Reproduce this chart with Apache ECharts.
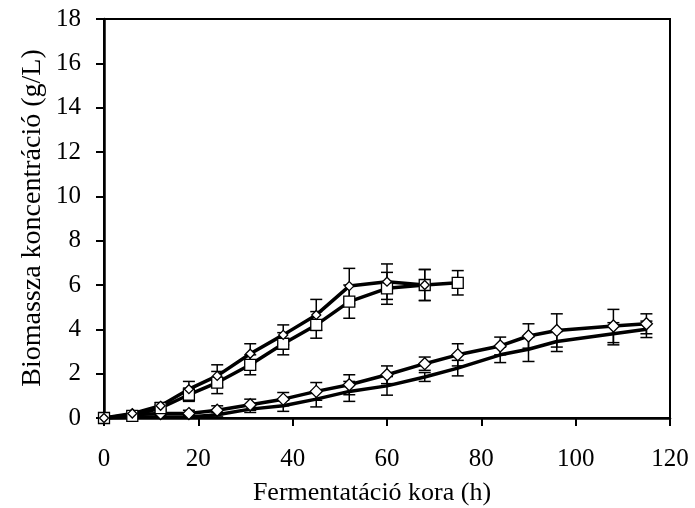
<!DOCTYPE html>
<html>
<head>
<meta charset="utf-8">
<script src="https://cdn.jsdelivr.net/npm/echarts@6/dist/echarts.min.js"></script>
<style>html,body{margin:0;padding:0;background:#fff;}#c{width:695px;height:508px;}</style>
</head>
<body>
<div id="c"></div>
<script>
// Data
const timesA = [0, 6, 12, 18, 24, 31, 38, 45, 52, 60, 68];
const valuesA = [0, 0.2, 0.55, 1.3, 1.9, 2.9, 3.75, 4.65, 5.95, 6.15, 6.0];
const errA = [0, 0.1, 0.15, 0.35, 0.5, 0.45, 0.45, 0.7, 0.8, 0.8, 0.7];

const timesB = [0, 6, 12, 18, 24, 31, 38, 45, 52, 60, 68, 75];
const valuesB = [0, 0.1, 0.45, 1.05, 1.6, 2.4, 3.35, 4.2, 5.25, 5.85, 6.0, 6.1];
const errB = [0, 0.1, 0.15, 0.3, 0.5, 0.45, 0.5, 0.6, 0.75, 0.72, 0.7, 0.55];

const timesCD = [0, 6, 12, 18, 24, 31, 38, 45, 52, 60, 68, 75, 84, 90, 96, 108, 115];
const valuesC = [0, 0.15, 0.2, 0.2, 0.35, 0.6, 0.85, 1.2, 1.5, 1.95, 2.45, 2.85, 3.25, 3.7, 3.95, 4.15, 4.25];
const errC = [0, 0.15, 0.15, 0.15, 0.2, 0.25, 0.3, 0.4, 0.45, 0.4, 0.3, 0.5, 0.4, 0.55, 0.75, 0.75, 0.45];
const valuesD = [0, 0.05, 0.05, 0.05, 0.15, 0.4, 0.55, 0.85, 1.2, 1.45, 1.85, 2.25, 2.85, 3.1, 3.45, 3.8, 4.0];
const errD = [0, 0.05, 0.05, 0.05, 0.1, 0.15, 0.25, 0.35, 0.45, 0.42, 0.2, 0.35, 0.35, 0.55, 0.45, 0.5, 0.37];

const xTicks = [0, 20, 40, 60, 80, 100, 120];
const yTicks = [0, 2, 4, 6, 8, 10, 12, 14, 16, 18];

const xTitle = 'Fermentatáció kora (h)';
const yTitle = 'Biomassza koncentráció (g/L)';

function pairs(xs, ys) { return xs.map((x, i) => [x, ys[i]]); }
function errData(xs, ys, es) { return xs.map((x, i) => [x, ys[i] - es[i], ys[i] + es[i]]); }

function errSeries(xs, ys, es) {
  return {
    type: 'custom',
    data: errData(xs, ys, es),
    z: 3,
    silent: true,
    encode: { x: 0, y: [1, 2] },
    renderItem: function (params, api) {
      const x = api.value(0);
      const lo = api.coord([x, api.value(1)]);
      const hi = api.coord([x, api.value(2)]);
      const w = 6;
      const style = { stroke: '#000', lineWidth: 1.5, fill: null };
      return {
        type: 'group',
        children: [
          { type: 'line', shape: { x1: lo[0], y1: lo[1], x2: hi[0], y2: hi[1] }, style: style },
          { type: 'line', shape: { x1: lo[0] - w, y1: lo[1], x2: lo[0] + w, y2: lo[1] }, style: style },
          { type: 'line', shape: { x1: hi[0] - w, y1: hi[1], x2: hi[0] + w, y2: hi[1] }, style: style }
        ]
      };
    }
  };
}

function lineSeries(xs, ys, symbol, size) {
  return {
    type: 'line',
    data: pairs(xs, ys),
    symbol: symbol,
    symbolSize: size,
    showSymbol: symbol !== 'none',
    z: 4,
    lineStyle: { color: '#000', width: 3.5 },
    itemStyle: { color: '#fff', borderColor: '#000', borderWidth: 1.3 },
    animation: false
  };
}

const font = 'Liberation Serif, Times New Roman, serif';
const chart = echarts.init(document.getElementById('c'));
chart.setOption({
  animation: false,
  backgroundColor: '#fff',
  grid: { left: 104, right: 25, top: 19, bottom: 90, show: true, borderColor: '#000', borderWidth: 2 },
  xAxis: {
    type: 'value', min: 0, max: 120, interval: 20,
    axisLine: { show: true, lineStyle: { color: '#000', width: 2.5 } },
    axisTick: { show: true, length: 8, lineStyle: { color: '#000', width: 2 } },
    axisLabel: { color: '#000', fontFamily: font, fontSize: 25, margin: 29,
      formatter: v => xTicks.includes(v) ? String(v) : '' },
    splitLine: { show: false }
  },
  yAxis: {
    type: 'value', min: 0, max: 18, interval: 2,
    axisLine: { show: true, lineStyle: { color: '#000', width: 2.5 } },
    axisTick: { show: true, length: 8, lineStyle: { color: '#000', width: 2 } },
    axisLabel: { color: '#000', fontFamily: font, fontSize: 25, margin: 23,
      formatter: v => yTicks.includes(v) ? String(v) : '' },
    splitLine: { show: false }
  },
  graphic: [
    { type: 'text', x: 372, y: 493,
      style: { text: xTitle, fontFamily: font, fontSize: 26, fill: '#000', align: 'center', verticalAlign: 'middle' } },
    { type: 'text', x: 33, y: 218, rotation: Math.PI / 2,
      style: { text: yTitle, fontFamily: font, fontSize: 28, fill: '#000', align: 'center', verticalAlign: 'middle' } }
  ],
  series: [
    errSeries(timesA, valuesA, errA),
    errSeries(timesB, valuesB, errB),
    errSeries(timesCD, valuesC, errC),
    errSeries(timesCD, valuesD, errD),
    lineSeries(timesCD, valuesD, 'none', 0),
    lineSeries(timesCD, valuesC, 'diamond', 12),
    lineSeries(timesB, valuesB, 'rect', 11),
    lineSeries(timesA, valuesA, 'diamond', 9)
  ]
});
</script>
</body>
</html>
